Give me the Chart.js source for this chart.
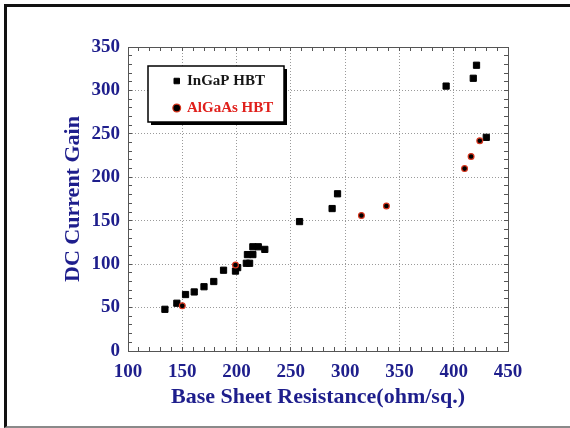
<!DOCTYPE html>
<html>
<head>
<meta charset="utf-8">
<script src="https://cdn.jsdelivr.net/npm/chart.js@4.4.1/dist/chart.umd.min.js"></script>
<style>
  html, body { margin: 0; padding: 0; background: #fff; width: 570px; height: 428px; overflow: hidden; }
  #frame { position: absolute; left: 4px; top: 4px; width: 566px; height: 424px; box-sizing: border-box;
           border-top: 3px solid #111; border-left: 3px solid #111; border-bottom: 2px solid #8a8a8a; }
  #wrap { position: absolute; left: 0; top: 0; width: 570px; height: 428px; }
</style>
</head>
<body>
<div id="frame"></div>
<div id="wrap"><canvas id="c" width="570" height="428"></canvas></div>
<script>
// ---- data ----
const seriesNames = ['InGaP HBT', 'AlGaAs HBT'];
const ingapResistance = [134, 145, 153, 161, 170, 179, 188, 199, 201, 209, 212, 210, 215, 215, 220, 226, 258, 288, 293, 393, 418, 421, 430];
const ingapGain       = [ 48,  55,  65,  68,  74,  80,  93,  92,  96, 101, 101, 111, 111, 120, 120, 117, 149, 164, 181, 305, 314, 329, 246];
const algaasResistance = [150, 199, 315, 338, 410, 416, 424];
const algaasGain       = [ 52,  99, 156, 167, 210, 224, 242];
const xTickLabels = [100, 150, 200, 250, 300, 350, 400, 450];
const yTickLabels = [0, 50, 100, 150, 200, 250, 300, 350];
const xTitle = 'Base Sheet Resistance(ohm/sq.)';
const yTitle = 'DC Current Gain';

// ---- styling ----
const navy = '#1e1e8c';
const serif = "'Liberation Serif', 'Times New Roman', serif";
const tickFont = { family: serif, size: 19, weight: 'bold' };
const titleFont = { family: serif, size: 22, weight: 'bold' };
const legendTextColors = ['#161616', '#e0201c'];
const frameColor = '#555';
const gridColor = '#9a9a9a';

const toPoints = (xs, ys) => xs.map((x, i) => ({ x: x, y: ys[i] }));
const majorLabel = (list) => (v) => list.includes(v) ? String(v) : '';
const gridByTick = (list) => (ctx) => (ctx.tick && list.includes(ctx.tick.value)) ? gridColor : 'rgba(0,0,0,0)';

const legendFrame = {
  id: 'legendFrame',
  afterUpdate(chart) {
    const lg = chart.legend;
    if (!lg) return;
    const ca = chart.chartArea;
    lg.left = ca.left + 34;
    lg.top = ca.top + 14.5;
    if (!lg._framed) {
      const orig = lg.draw;
      lg.draw = function (area) {
        const ctx = chart.ctx;
        const c = chart.chartArea;
        const x = c.left + 20, y = c.top + 19, w = 136, h = 56;
        ctx.save();
        ctx.fillStyle = '#000';
        ctx.fillRect(x + 3, y + 3, w, h);
        ctx.fillStyle = '#fff';
        ctx.fillRect(x, y, w, h);
        ctx.lineWidth = 1.5;
        ctx.strokeStyle = '#000';
        ctx.strokeRect(x, y, w, h);
        ctx.restore();
        orig.call(lg, area);
      };
      lg._framed = true;
    }
  }
};

const baseGenerate = (Chart.defaults.plugins && Chart.defaults.plugins.legend && Chart.defaults.plugins.legend.labels.generateLabels);

new Chart(document.getElementById('c'), {
  type: 'scatter',
  data: {
    datasets: [
      {
        label: seriesNames[0],
        data: toPoints(ingapResistance, ingapGain),
        xAxisID: 'x', yAxisID: 'y',
        pointStyle: 'rect',
        pointRadius: 4.4,
        pointHoverRadius: 4.4,
        backgroundColor: '#000',
        borderColor: '#000',
        borderWidth: 1,
        order: 1
      },
      {
        label: seriesNames[1],
        data: toPoints(algaasResistance, algaasGain),
        xAxisID: 'x', yAxisID: 'y',
        pointStyle: 'circle',
        pointRadius: 2.9,
        pointHoverRadius: 2.9,
        backgroundColor: '#000',
        borderColor: '#d8361e',
        borderWidth: 1.2,
        order: 0
      }
    ]
  },
  options: {
    responsive: false,
    animation: false,
    layout: { padding: { left: 0, top: 47, right: 62, bottom: 0 } },
    plugins: {
      tooltip: { enabled: false },
      legend: {
        position: 'chartArea',
        align: 'start',
        labels: {
          usePointStyle: true,
          boxWidth: 5.5,
          boxHeight: 5.5,
          padding: 12,
          font: { family: serif, size: 15, weight: 'bold' },
          sort: (a, b) => a.datasetIndex - b.datasetIndex,
          generateLabels(chart) {
            const items = baseGenerate(chart);
            items.forEach(it => { it.fontColor = legendTextColors[it.datasetIndex]; });
            return items;
          }
        }
      }
    },
    scales: {
      x: {
        type: 'linear', position: 'bottom', min: 100, max: 450,
        ticks: { stepSize: 10, autoSkip: false, maxRotation: 0, minRotation: 0, padding: 14,
                 color: navy, font: tickFont, callback: majorLabel(xTickLabels) },
        grid: { color: gridByTick(xTickLabels), lineWidth: 1, tickLength: -4, tickColor: frameColor, tickWidth: 1 },
        border: { display: true, color: frameColor, width: 1, dash: [1, 2] },
        title: { display: true, text: xTitle, color: navy, font: titleFont, padding: { top: 0, bottom: 17 } },
        afterFit: (s) => { s.height = 77; }
      },
      x2: {
        type: 'linear', position: 'top', min: 100, max: 450,
        ticks: { display: false, stepSize: 10, autoSkip: false },
        grid: { drawOnChartArea: false, tickLength: -4, tickColor: frameColor, color: frameColor },
        border: { display: true, color: frameColor, width: 1 },
        afterFit: (s) => { s.height = 0; }
      },
      y: {
        type: 'linear', position: 'left', min: 0, max: 350,
        ticks: { stepSize: 10, autoSkip: false, padding: 12, color: navy, font: tickFont,
                 callback: majorLabel(yTickLabels) },
        grid: { color: gridByTick(yTickLabels), lineWidth: 1, tickLength: -4, tickColor: frameColor, tickWidth: 1 },
        border: { display: true, color: frameColor, width: 1, dash: [1, 2] },
        title: { display: true, text: yTitle, color: navy, font: titleFont, padding: { top: 60, bottom: 0 } },
        afterFit: (s) => { s.width = 128; }
      },
      y2: {
        type: 'linear', position: 'right', min: 0, max: 350,
        ticks: { display: false, stepSize: 10, autoSkip: false },
        grid: { drawOnChartArea: false, tickLength: -4, tickColor: frameColor, color: frameColor },
        border: { display: true, color: frameColor, width: 1 },
        afterFit: (s) => { s.width = 0; }
      }
    }
  },
  plugins: [legendFrame]
});
</script>
</body>
</html>
